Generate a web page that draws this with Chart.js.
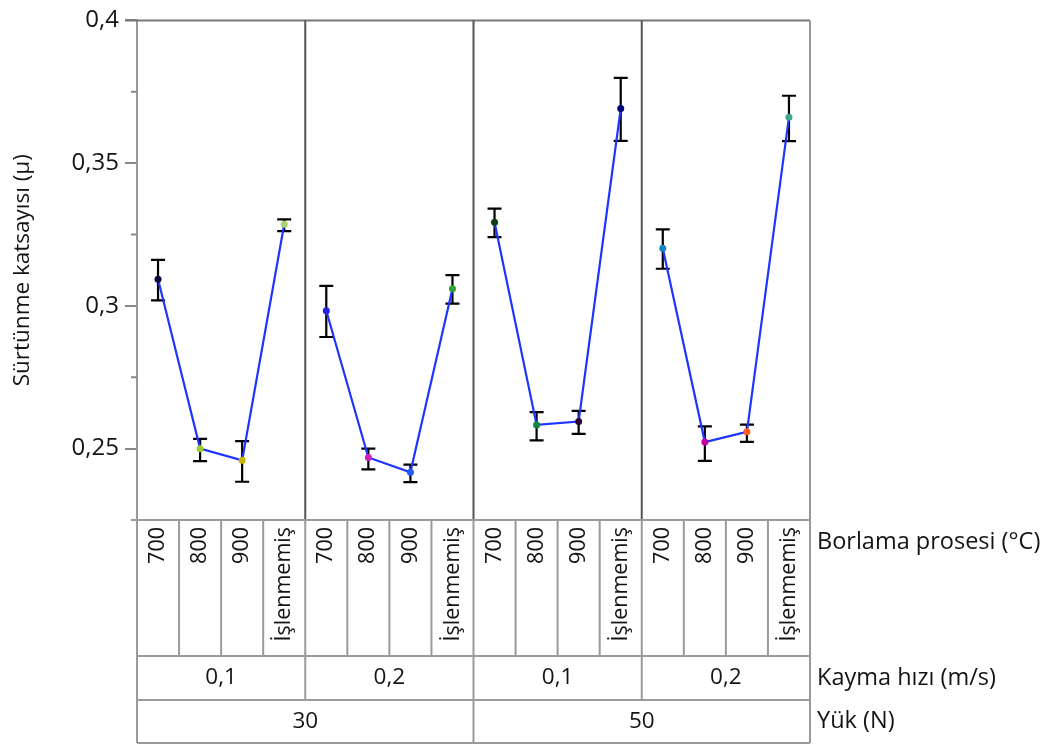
<!DOCTYPE html>
<html>
<head>
<meta charset="utf-8">
<script src="https://cdn.jsdelivr.net/npm/chart.js@4.4.0/dist/chart.umd.min.js"></script>
<style>
body{margin:0;background:#fff;}
</style>
</head>
<body>
<canvas id="chart" width="1051" height="745"></canvas>
<script>
// tablo etiketleri
var borlama = ['700', '800', '900', 'İşlenmemiş', '700', '800', '900', 'İşlenmemiş',
               '700', '800', '900', 'İşlenmemiş', '700', '800', '900', 'İşlenmemiş'];
var kayma = ['0,1', '0,2', '0,1', '0,2'];
var yuk = ['30', '50'];

// ortalama ve hata cubuklari
var ortalama = [0.3093, 0.2500, 0.2459, 0.3286, 0.2983, 0.2469, 0.2417, 0.3060,
                0.3293, 0.2583, 0.2595, 0.3691, 0.3202, 0.2523, 0.2559, 0.3661];
var ust = [0.3161, 0.2534, 0.2526, 0.3303, 0.3070, 0.2500, 0.2444, 0.3108,
           0.3341, 0.2628, 0.2632, 0.3799, 0.3268, 0.2578, 0.2584, 0.3736];
var alt = [0.3019, 0.2456, 0.2384, 0.3262, 0.2891, 0.2427, 0.2383, 0.3008,
           0.3241, 0.2529, 0.2552, 0.3578, 0.3130, 0.2457, 0.2524, 0.3577];
var noktaRenk = ['#0b0b3a', '#9acd32', '#c9b400', '#a8d468', '#2323e6', '#d21fc2', '#1f5cff', '#2fa335',
                 '#0f3d12', '#138543', '#2e002e', '#00007a', '#1582c4', '#c400a4', '#ff5a1f', '#3fa88a'];

var FONT = '"Open Sans", "Noto Sans", sans-serif';
var isMajor = function (v) { return Math.abs(Math.round(v * 1000) % 50) < 1; };

var tablo = {
    id: 'tablo',
    beforeDatasetsDraw: function (chart) {
        var ctx = chart.ctx, x = chart.scales.x, y = chart.scales.y;
        ctx.save();
        ctx.strokeStyle = '#000';
        ctx.lineWidth = 2.2;
        for (var i = 0; i < ortalama.length; i++) {
            var px = x.getPixelForValue(i);
            var y1 = y.getPixelForValue(ust[i]), y2 = y.getPixelForValue(alt[i]);
            ctx.beginPath();
            ctx.moveTo(px, y1); ctx.lineTo(px, y2);
            ctx.moveTo(px - 7, y1); ctx.lineTo(px + 7, y1);
            ctx.moveTo(px - 7, y2); ctx.lineTo(px + 7, y2);
            ctx.stroke();
        }
        ctx.restore();
    },
    afterDraw: function (chart) {
        var ctx = chart.ctx, x = chart.scales.x, y = chart.scales.y, a = chart.chartArea;
        var w = x.getPixelForValue(1) - x.getPixelForValue(0);
        var edge = function (i) { return x.getPixelForValue(i) - w / 2; };
        var r0 = a.bottom, r1 = r0 + 136, r2 = r1 + 44, r3 = r2 + 43;
        ctx.save();
        // minor ticks
        ctx.strokeStyle = '#888';
        ctx.lineWidth = 2;
        for (var v = 0.225; v < 0.4001; v += 0.025) {
            if (isMajor(v)) continue;
            var py = y.getPixelForValue(v);
            ctx.beginPath(); ctx.moveTo(a.left - 6, py); ctx.lineTo(a.left, py); ctx.stroke();
        }
        // ust cizgi ve sag kenar
        ctx.strokeStyle = '#777';
        ctx.beginPath(); ctx.moveTo(a.left - 12, a.top); ctx.lineTo(a.right, a.top); ctx.stroke();
        ctx.strokeStyle = '#999';
        ctx.beginPath(); ctx.moveTo(a.right, a.top); ctx.lineTo(a.right, a.bottom); ctx.stroke();
        // panel ayiricilar
        ctx.strokeStyle = '#555';
        [4, 8, 12].forEach(function (i) {
            ctx.beginPath(); ctx.moveTo(edge(i), a.top); ctx.lineTo(edge(i), a.bottom); ctx.stroke();
        });
        // tablo cizgileri
        ctx.strokeStyle = '#9a9a9a';
        ctx.beginPath(); ctx.moveTo(a.left - 6, r0); ctx.lineTo(a.right, r0);
        [r1, r2, r3].forEach(function (r) { ctx.moveTo(a.left, r); ctx.lineTo(a.right, r); });
        for (var i = 0; i <= 16; i++) { ctx.moveTo(edge(i), r0); ctx.lineTo(edge(i), r1); }
        for (var i = 0; i <= 4; i++) { ctx.moveTo(edge(i * 4), r1); ctx.lineTo(edge(i * 4), r2); }
        for (var i = 0; i <= 2; i++) { ctx.moveTo(edge(i * 8), r2); ctx.lineTo(edge(i * 8), r3); }
        ctx.stroke();
        // yazilar
        ctx.fillStyle = '#141414';
        ctx.font = '21.5px ' + FONT;
        borlama.forEach(function (lab, i) {
            ctx.save();
            ctx.translate(x.getPixelForValue(i), r0 + 7);
            ctx.rotate(-Math.PI / 2);
            ctx.textAlign = 'right';
            ctx.textBaseline = 'middle';
            ctx.fillText(lab, 0, 0);
            ctx.restore();
        });
        ctx.font = '22.5px ' + FONT;
        ctx.textAlign = 'center';
        ctx.textBaseline = 'middle';
        kayma.forEach(function (lab, g) {
            ctx.fillText(lab, (edge(g * 4) + edge(g * 4 + 4)) / 2, (r1 + r2) / 2);
        });
        yuk.forEach(function (lab, g) {
            ctx.fillText(lab, (edge(g * 8) + edge(g * 8 + 8)) / 2, (r2 + r3) / 2);
        });
        ctx.font = '23.5px ' + FONT;
        ctx.textAlign = 'left';
        ctx.fillText('Borlama prosesi (°C)', a.right + 7, r0 + 22);
        ctx.fillText('Kayma hızı (m/s)', a.right + 7, (r1 + r2) / 2);
        ctx.fillText('Yük (N)', a.right + 7, (r2 + r3) / 2);
        ctx.restore();
    }
};

new Chart(document.getElementById('chart'), {
    type: 'line',
    data: {
        labels: borlama,
        datasets: [{
            data: ortalama,
            borderColor: '#1d35ff',
            borderWidth: 2.2,
            pointRadius: 3.5,
            pointBorderWidth: 0,
            pointBackgroundColor: noktaRenk,
            segment: {
                borderColor: function (c) { return c.p1DataIndex % 4 === 0 ? 'transparent' : '#1d35ff'; }
            }
        }]
    },
    options: {
        responsive: false,
        animation: false,
        layout: { padding: { left: 0, top: 16, right: 241, bottom: 225 } },
        plugins: { legend: { display: false }, tooltip: { enabled: false } },
        scales: {
            x: { type: 'category', offset: true, display: false },
            y: {
                min: 0.225, max: 0.4,
                afterFit: function (s) { s.width = 137; },
                border: { color: '#999', width: 2 },
                grid: {
                    drawOnChartArea: false, tickLength: 12, lineWidth: 2,
                    color: function (c) { return isMajor(c.tick.value) ? '#888' : 'transparent'; }
                },
                ticks: {
                    stepSize: 0.025, padding: 6, color: '#141414',
                    font: { family: FONT, size: 24 },
                    callback: function (v) { return isMajor(v) ? String(+v.toFixed(3)).replace('.', ',') : ''; }
                },
                title: {
                    display: true, text: 'Sürtünme katsayısı (µ)', color: '#141414',
                    font: { family: FONT, size: 22.5 }, padding: { top: 9, bottom: 4 }
                }
            }
        }
    },
    plugins: [tablo]
});
</script>
</body>
</html>
